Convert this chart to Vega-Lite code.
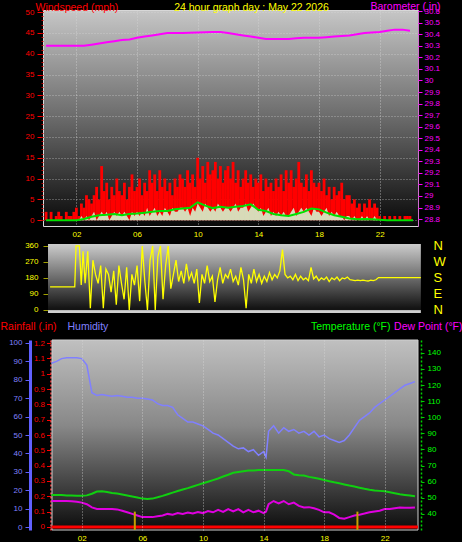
{
"$schema": "https://vega.github.io/schema/vega-lite/v6.json",
"background": "#000000",
"padding": 0,
"spacing": 0,
"config": {
  "view": {"stroke": null},
  "font": "Liberation Sans",
  "axis": {"labelFont": "Liberation Sans", "labelFontSize": 8, "titleFont": "Liberation Sans", "titleFontSize": 10.5, "titleFontWeight": "normal", "grid": false, "domain": false, "labelOverlap": false}
},
"datasets": {
  "wind": [
    {"t":0,"g":2,"s":0},{"t":10,"g":0,"s":0},{"t":20,"g":2,"s":0},{"t":30,"g":0,"s":0},{"t":40,"g":1,"s":0},{"t":50,"g":2,"s":0},
    {"t":60,"g":1,"s":0},{"t":70,"g":0,"s":0},{"t":80,"g":2,"s":0},{"t":90,"g":1,"s":0},{"t":100,"g":1,"s":0},{"t":110,"g":2,"s":0},
    {"t":120,"g":3,"s":0},{"t":130,"g":1,"s":0},{"t":140,"g":4,"s":1},{"t":150,"g":3,"s":0},{"t":160,"g":6,"s":1},{"t":170,"g":5,"s":0},
    {"t":180,"g":4,"s":1},{"t":190,"g":6,"s":2},{"t":200,"g":8,"s":0},{"t":210,"g":5,"s":1},{"t":220,"g":13,"s":2},{"t":230,"g":7,"s":1},
    {"t":240,"g":9,"s":2},{"t":250,"g":5,"s":0},{"t":260,"g":8,"s":1},{"t":270,"g":6,"s":2},{"t":280,"g":10,"s":1},{"t":290,"g":7,"s":2},
    {"t":300,"g":6,"s":1},{"t":310,"g":9,"s":2},{"t":320,"g":5,"s":1},{"t":330,"g":8,"s":0},{"t":340,"g":11,"s":2},{"t":350,"g":7,"s":1},
    {"t":360,"g":8,"s":2},{"t":370,"g":10,"s":1},{"t":380,"g":6,"s":2},{"t":390,"g":9,"s":1},{"t":400,"g":7,"s":3},{"t":410,"g":12,"s":1},
    {"t":420,"g":9,"s":2},{"t":430,"g":11,"s":3},{"t":440,"g":7,"s":1},{"t":450,"g":12,"s":2},{"t":460,"g":8,"s":1},{"t":470,"g":10,"s":3},
    {"t":480,"g":7,"s":2},{"t":490,"g":9,"s":1},{"t":500,"g":6,"s":3},{"t":510,"g":10,"s":2},{"t":520,"g":8,"s":2},{"t":530,"g":11,"s":3},
    {"t":540,"g":10,"s":3},{"t":550,"g":8,"s":2},{"t":560,"g":12,"s":3},{"t":570,"g":9,"s":1},{"t":580,"g":11,"s":3},{"t":590,"g":8,"s":2},
    {"t":600,"g":15,"s":4},{"t":610,"g":10,"s":3},{"t":620,"g":13,"s":2},{"t":630,"g":9,"s":4},{"t":640,"g":14,"s":3},{"t":650,"g":11,"s":2},
    {"t":660,"g":12,"s":3},{"t":670,"g":14,"s":2},{"t":680,"g":10,"s":4},{"t":690,"g":13,"s":3},{"t":700,"g":9,"s":2},{"t":710,"g":12,"s":3},
    {"t":720,"g":13,"s":3},{"t":730,"g":10,"s":2},{"t":740,"g":14,"s":3},{"t":750,"g":9,"s":4},{"t":760,"g":12,"s":2},{"t":770,"g":8,"s":3},
    {"t":780,"g":10,"s":3},{"t":790,"g":12,"s":4},{"t":800,"g":9,"s":2},{"t":810,"g":11,"s":3},{"t":820,"g":8,"s":4},{"t":830,"g":10,"s":3},
    {"t":840,"g":9,"s":2},{"t":850,"g":11,"s":3},{"t":860,"g":7,"s":1},{"t":870,"g":10,"s":2},{"t":880,"g":8,"s":3},{"t":890,"g":9,"s":1},
    {"t":900,"g":7,"s":2},{"t":910,"g":10,"s":1},{"t":920,"g":8,"s":2},{"t":930,"g":11,"s":1},{"t":940,"g":7,"s":2},{"t":950,"g":12,"s":1},
    {"t":960,"g":9,"s":1},{"t":970,"g":12,"s":2},{"t":980,"g":8,"s":3},{"t":990,"g":10,"s":1},{"t":1000,"g":14,"s":2},{"t":1010,"g":9,"s":3},
    {"t":1020,"g":8,"s":2},{"t":1030,"g":11,"s":3},{"t":1040,"g":7,"s":2},{"t":1050,"g":12,"s":1},{"t":1060,"g":9,"s":3},{"t":1070,"g":8,"s":2},
    {"t":1080,"g":9,"s":2},{"t":1090,"g":7,"s":1},{"t":1100,"g":10,"s":2},{"t":1110,"g":6,"s":3},{"t":1120,"g":8,"s":1},{"t":1130,"g":5,"s":2},
    {"t":1140,"g":8,"s":1},{"t":1150,"g":6,"s":2},{"t":1160,"g":7,"s":1},{"t":1170,"g":9,"s":1},{"t":1180,"g":5,"s":0},{"t":1190,"g":6,"s":1},
    {"t":1200,"g":6,"s":1},{"t":1210,"g":4,"s":0},{"t":1220,"g":5,"s":1},{"t":1230,"g":3,"s":0},{"t":1240,"g":4,"s":0},{"t":1250,"g":2,"s":1},
    {"t":1260,"g":4,"s":0},{"t":1270,"g":3,"s":1},{"t":1280,"g":5,"s":0},{"t":1290,"g":3,"s":0},{"t":1300,"g":4,"s":1},{"t":1310,"g":3,"s":0},
    {"t":1320,"g":1,"s":0},{"t":1330,"g":0,"s":0},{"t":1340,"g":1,"s":0},{"t":1350,"g":0,"s":0},{"t":1360,"g":1,"s":0},{"t":1370,"g":0,"s":0},
    {"t":1380,"g":1,"s":0},{"t":1390,"g":0,"s":0},{"t":1400,"g":1,"s":0},{"t":1410,"g":0,"s":0},{"t":1420,"g":1,"s":0},{"t":1430,"g":1,"s":0},
    {"t":1440,"g":1,"s":0}
  ],
  "avg": [
    {"t":0,"a":0},{"t":120,"a":0},{"t":150,"a":0.3},{"t":180,"a":0.8},{"t":210,"a":1.2},{"t":240,"a":1.3},{"t":270,"a":1.5},{"t":300,"a":1.2},
    {"t":330,"a":1.5},{"t":360,"a":1.6},{"t":390,"a":1.8},{"t":420,"a":2.0},{"t":450,"a":2.2},{"t":480,"a":2.2},{"t":510,"a":2.6},{"t":540,"a":2.8},
    {"t":570,"a":3.0},{"t":600,"a":4.3},{"t":630,"a":3.5},{"t":660,"a":2.9},{"t":690,"a":3.2},{"t":720,"a":3.0},{"t":750,"a":3.2},{"t":780,"a":3.4},
    {"t":810,"a":3.8},{"t":840,"a":2.5},{"t":870,"a":2.2},{"t":900,"a":1.5},{"t":930,"a":1.2},{"t":960,"a":1.0},{"t":990,"a":1.5},{"t":1020,"a":2.0},
    {"t":1050,"a":2.8},{"t":1080,"a":2.6},{"t":1110,"a":1.8},{"t":1140,"a":1.2},{"t":1170,"a":0.8},{"t":1200,"a":0.4},{"t":1230,"a":0.2},{"t":1260,"a":0.3},
    {"t":1290,"a":0.2},{"t":1320,"a":0.1},{"t":1350,"a":0},{"t":1452,"a":0}
  ],
  "baro": [
    {"t":0,"b":30.30},{"t":150,"b":30.30},{"t":180,"b":30.31},{"t":210,"b":30.32},{"t":240,"b":30.33},{"t":270,"b":30.34},{"t":300,"b":30.35},
    {"t":330,"b":30.355},{"t":360,"b":30.37},{"t":390,"b":30.38},{"t":420,"b":30.39},{"t":450,"b":30.40},{"t":480,"b":30.41},{"t":540,"b":30.41},
    {"t":600,"b":30.415},{"t":660,"b":30.42},{"t":690,"b":30.42},{"t":720,"b":30.41},{"t":750,"b":30.40},{"t":780,"b":30.39},{"t":810,"b":30.38},
    {"t":840,"b":30.37},{"t":870,"b":30.36},{"t":960,"b":30.36},{"t":990,"b":30.365},{"t":1020,"b":30.37},{"t":1080,"b":30.37},{"t":1110,"b":30.375},
    {"t":1140,"b":30.38},{"t":1170,"b":30.385},{"t":1200,"b":30.39},{"t":1230,"b":30.40},{"t":1260,"b":30.41},{"t":1290,"b":30.415},{"t":1320,"b":30.42},
    {"t":1350,"b":30.43},{"t":1380,"b":30.44},{"t":1410,"b":30.44},{"t":1440,"b":30.43}
  ],
  "dir": [
    {"t":35,"d":130},{"t":130,"d":130},{"t":135,"d":360},{"t":148,"d":360},{"t":155,"d":140},{"t":162,"d":330},{"t":170,"d":150},{"t":180,"d":330},
    {"t":190,"d":10},{"t":200,"d":280},{"t":210,"d":200},{"t":220,"d":150},{"t":230,"d":250},{"t":240,"d":10},{"t":250,"d":230},{"t":260,"d":200},
    {"t":270,"d":100},{"t":280,"d":220},{"t":290,"d":30},{"t":300,"d":250},{"t":310,"d":150},{"t":320,"d":60},{"t":330,"d":240},{"t":340,"d":0},
    {"t":350,"d":200},{"t":360,"d":140},{"t":370,"d":250},{"t":380,"d":50},{"t":390,"d":360},{"t":400,"d":160},{"t":410,"d":0},{"t":420,"d":280},
    {"t":430,"d":360},{"t":440,"d":0},{"t":450,"d":300},{"t":460,"d":360},{"t":470,"d":60},{"t":480,"d":250},{"t":490,"d":360},{"t":500,"d":120},
    {"t":510,"d":200},{"t":520,"d":280},{"t":530,"d":160},{"t":540,"d":220},{"t":550,"d":150},{"t":560,"d":260},{"t":570,"d":170},{"t":580,"d":210},
    {"t":590,"d":150},{"t":600,"d":230},{"t":610,"d":40},{"t":620,"d":200},{"t":630,"d":150},{"t":640,"d":250},{"t":650,"d":160},{"t":660,"d":190},
    {"t":670,"d":45},{"t":680,"d":170},{"t":690,"d":240},{"t":700,"d":150},{"t":710,"d":200},{"t":720,"d":180},{"t":730,"d":230},{"t":740,"d":160},
    {"t":750,"d":190},{"t":760,"d":140},{"t":770,"d":240},{"t":780,"d":170},{"t":790,"d":10},{"t":800,"d":200},{"t":810,"d":150},{"t":820,"d":230},
    {"t":830,"d":160},{"t":840,"d":200},{"t":850,"d":150},{"t":860,"d":190},{"t":870,"d":160},{"t":880,"d":210},{"t":890,"d":170},{"t":900,"d":200},
    {"t":910,"d":180},{"t":920,"d":220},{"t":930,"d":340},{"t":940,"d":200},{"t":950,"d":180},{"t":960,"d":190},{"t":970,"d":170},{"t":980,"d":200},
    {"t":990,"d":165},{"t":1000,"d":190},{"t":1010,"d":170},{"t":1020,"d":180},{"t":1030,"d":165},{"t":1040,"d":240},{"t":1050,"d":175},{"t":1060,"d":190},
    {"t":1070,"d":165},{"t":1080,"d":180},{"t":1090,"d":170},{"t":1100,"d":185},{"t":1110,"d":160},{"t":1120,"d":180},{"t":1130,"d":170},{"t":1140,"d":185},
    {"t":1150,"d":165},{"t":1160,"d":180},{"t":1170,"d":175},{"t":1180,"d":185},{"t":1190,"d":170},{"t":1200,"d":168},{"t":1210,"d":165},{"t":1220,"d":168},
    {"t":1230,"d":165},{"t":1240,"d":168},{"t":1250,"d":165},{"t":1260,"d":163},{"t":1270,"d":168},{"t":1280,"d":165},{"t":1290,"d":170},{"t":1300,"d":182},
    {"t":1463,"d":182}
  ],
  "bot": [
    {"t":0,"h":89,"tp":51.8,"dp":48},{"t":20,"h":90,"tp":51.8,"dp":48},{"t":40,"h":91.5,"tp":51.7,"dp":48},{"t":60,"h":92,"tp":51.5,"dp":48},
    {"t":80,"h":92,"tp":51.4,"dp":47.8},{"t":100,"h":92,"tp":51.3,"dp":47.5},{"t":120,"h":91.5,"tp":51.2,"dp":47},{"t":140,"h":88,"tp":51.5,"dp":46},
    {"t":160,"h":73,"tp":52.5,"dp":44},{"t":180,"h":71.5,"tp":53.9,"dp":43},{"t":200,"h":72,"tp":54,"dp":43},{"t":220,"h":71.5,"tp":53.6,"dp":43},
    {"t":240,"h":71,"tp":53,"dp":43},{"t":260,"h":71.5,"tp":52.6,"dp":42.8},{"t":280,"h":71,"tp":52,"dp":42},{"t":300,"h":70.5,"tp":51.4,"dp":41},
    {"t":320,"h":70.5,"tp":50.8,"dp":40},{"t":340,"h":70,"tp":50.2,"dp":39},{"t":360,"h":70,"tp":49.5,"dp":38},{"t":380,"h":69.5,"tp":49.3,"dp":38},
    {"t":400,"h":69,"tp":49.5,"dp":38},{"t":420,"h":67,"tp":50.3,"dp":38.5},{"t":440,"h":66,"tp":51.2,"dp":39},{"t":460,"h":66,"tp":52.2,"dp":40},
    {"t":480,"h":65,"tp":53.2,"dp":39.5},{"t":500,"h":61,"tp":54.2,"dp":40.5},{"t":520,"h":59,"tp":55.2,"dp":40},{"t":540,"h":57,"tp":56,"dp":40.8},
    {"t":560,"h":57,"tp":57,"dp":40.2},{"t":580,"h":56,"tp":58,"dp":41.2},{"t":600,"h":55,"tp":59,"dp":40.5},{"t":620,"h":53,"tp":60,"dp":41.8},
    {"t":640,"h":51,"tp":61,"dp":41},{"t":660,"h":50,"tp":62,"dp":42.5},{"t":680,"h":48,"tp":63.2,"dp":41.2},{"t":700,"h":46,"tp":64.3,"dp":43},
    {"t":720,"h":44,"tp":65.5,"dp":41.5},{"t":740,"h":42.5,"tp":66,"dp":43},{"t":760,"h":43,"tp":66.5,"dp":41},{"t":780,"h":41,"tp":67,"dp":42.5},
    {"t":800,"h":42,"tp":67,"dp":41},{"t":820,"h":39,"tp":67.2,"dp":42},{"t":840,"h":41,"tp":67.3,"dp":40.5},{"t":850,"h":38,"tp":67.3,"dp":41.5},
    {"t":860,"h":52,"tp":67.3,"dp":46},{"t":880,"h":55,"tp":67.3,"dp":48},{"t":900,"h":51,"tp":67.3,"dp":46.5},{"t":920,"h":54,"tp":67.2,"dp":48},
    {"t":940,"h":52,"tp":66.5,"dp":46},{"t":960,"h":53,"tp":64.5,"dp":47},{"t":980,"h":51,"tp":64,"dp":45},{"t":1000,"h":52,"tp":63.8,"dp":44},
    {"t":1020,"h":50,"tp":63,"dp":44.2},{"t":1040,"h":52,"tp":62.5,"dp":43.5},{"t":1060,"h":49,"tp":61.8,"dp":42.5},{"t":1080,"h":50,"tp":61,"dp":41},
    {"t":1100,"h":48,"tp":60.3,"dp":41},{"t":1120,"h":47,"tp":59.6,"dp":39.5},{"t":1140,"h":46,"tp":59,"dp":37.5},{"t":1160,"h":47,"tp":58.3,"dp":37},
    {"t":1180,"h":50,"tp":57.6,"dp":38},{"t":1200,"h":54,"tp":57,"dp":39},{"t":1220,"h":58,"tp":56.3,"dp":39.5},{"t":1240,"h":60,"tp":55.6,"dp":40.2},
    {"t":1260,"h":62,"tp":55,"dp":41},{"t":1280,"h":65,"tp":54.6,"dp":41.5},{"t":1300,"h":67,"tp":54.3,"dp":42},{"t":1320,"h":69,"tp":54,"dp":43},
    {"t":1340,"h":71,"tp":53.4,"dp":43},{"t":1360,"h":73,"tp":52.8,"dp":43.5},{"t":1380,"h":75,"tp":52.2,"dp":44},{"t":1400,"h":77,"tp":51.8,"dp":43.8},
    {"t":1420,"h":78,"tp":51.4,"dp":43.8},{"t":1440,"h":79,"tp":51,"dp":44}
  ],
  "rain": [{"t":0,"r":0},{"t":1452,"r":0}],
  "sun": [{"t":330,"label":"sunrise"},{"t":1212,"label":"sunset"}]
},
"vconcat": [
  {
    "width": 375, "height": 216,
    "view": {"fill": {"gradient": "linear", "x1": 0, "y1": 0, "x2": 0, "y2": 1, "stops": [{"offset": 0, "color": "#c6c6c6"}, {"offset": 0.5, "color": "#6a6a6a"}, {"offset": 1, "color": "#080808"}]}, "stroke": "#d8d8d8"},
    "layer": [
      {
        "data": {"name": "wind"},
        "mark": {"type": "bar", "color": "#ff0000", "width": 2.8, "clip": true},
        "encoding": {
          "x": {"field": "t", "type": "quantitative", "scale": {"domain": [7.7, 1452], "nice": false, "zero": false},
                "axis": {"values": [120,240,360,480,600,720,840,960,1080,1200,1320,1440], "labelExpr": "datum.value == 1440 ? '00' : (datum.value < 600 ? '0' + datum.value/60 : '' + datum.value/60)", "labelColor": "#ffff00", "ticks": false, "labelPadding": 4, "grid": true, "gridColor": "#d8d8d8", "gridDash": [1, 2], "gridOpacity": 0.7, "title": null}},
          "y": {"field": "g", "type": "quantitative", "scale": {"domain": [-1.4, 50.5], "nice": false, "zero": false},
                "axis": {"orient": "left", "values": [0,5,10,15,20,25,30,35,40,45,50], "labelColor": "#ff0000", "tickColor": "#ff0000", "tickSize": 6, "labelPadding": 3, "grid": true, "gridColor": "#d8d8d8", "gridDash": [1, 2], "gridOpacity": 0.6,
                         "title": "Windspeed (mph)", "titleColor": "#ff0000", "titleAngle": 0, "titleAlign": "left", "titleBaseline": "bottom", "titleX": -8, "titleY": 2}}
        }
      },
      {
        "data": {"name": "wind"},
        "mark": {"type": "area", "color": "#d4f2cc", "opacity": 0.9, "clip": true},
        "encoding": {
          "x": {"field": "t", "type": "quantitative"},
          "y": {"field": "s", "type": "quantitative", "scale": {"domain": [-1.4, 50.5], "nice": false, "zero": false},
                "axis": {"orient": "left", "values": [0,1,2,3,4,5,6,7,8,9,10,11,12,13,14,15,16,17,18,19,20,21,22,23,24,25,26,27,28,29,30,31,32,33,34,35,36,37,38,39,40,41,42,43,44,45,46,47,48,49,50], "labels": false, "tickColor": "#c00000", "tickSize": 2, "title": null}}
        }
      },
      {
        "data": {"name": "avg"},
        "mark": {"type": "line", "color": "#00e000", "strokeWidth": 2, "clip": true},
        "encoding": {
          "x": {"field": "t", "type": "quantitative"},
          "y": {"field": "a", "type": "quantitative", "scale": {"domain": [-1.4, 50.5], "nice": false, "zero": false},
                "axis": {"orient": "left", "labels": false, "ticks": false, "domain": false,
                         "title": "24 hour graph day : May 22 2026", "titleColor": "#ffff00", "titleAngle": 0, "titleAlign": "center", "titleBaseline": "bottom", "titleX": 208, "titleY": 2}}
        }
      },
      {
        "data": {"name": "baro"},
        "mark": {"type": "line", "color": "#ff00ff", "strokeWidth": 2, "clip": true},
        "encoding": {
          "x": {"field": "t", "type": "quantitative"},
          "y": {"field": "b", "type": "quantitative", "scale": {"domain": [28.74, 30.61], "nice": false, "zero": false},
                "axis": {"orient": "right", "values": [28.8,28.9,29,29.1,29.2,29.3,29.4,29.5,29.6,29.7,29.8,29.9,30,30.1,30.2,30.3,30.4,30.5,30.6], "format": "~g", "labelColor": "#ff00ff", "tickColor": "#ff00ff", "tickSize": 4, "labelPadding": 2, "domain": true, "domainColor": "#cc00cc", "domainDash": [1, 1],
                         "title": "Barometer (.in)", "titleColor": "#ff00ff", "titleAngle": 0, "titleAlign": "right", "titleBaseline": "bottom", "titleX": 22, "titleY": 1}}
        }
      }
    ],
    "resolve": {"scale": {"y": "independent"}, "axis": {"y": "independent"}}
  },
  {
    "width": 375, "height": 69,
    "layer": [
      {
        "data": {"values": [{}]},
        "mark": {"type": "rect", "clip": false, "fill": {"gradient": "linear", "x1": 0, "y1": 0, "x2": 0, "y2": 1, "stops": [{"offset": 0, "color": "#cccccc"}, {"offset": 0.5, "color": "#6a6a6a"}, {"offset": 0.93, "color": "#141414"}, {"offset": 0.955, "color": "#141414"}, {"offset": 0.965, "color": "#cfcfcf"}, {"offset": 1, "color": "#cfcfcf"}]}},
        "encoding": {
          "x": {"datum": 27, "type": "quantitative", "scale": {"domain": [7.7, 1452], "nice": false, "zero": false},
                "axis": {"labels": false, "ticks": true, "tickColor": "#000000", "tickSize": 7, "grid": false, "title": null}},
          "x2": {"datum": 1463},
          "y": {"datum": 0, "type": "quantitative", "scale": {"domain": [0, 1], "nice": false, "zero": false}, "axis": null},
          "y2": {"datum": 1}
        }
      },
      {
        "data": {"name": "dir"},
        "mark": {"type": "line", "color": "#ffff00", "strokeWidth": 1.3, "clip": false},
        "encoding": {
          "x": {"field": "t", "type": "quantitative"},
          "y": {"field": "d", "type": "quantitative", "scale": {"domain": [-17, 371], "nice": false, "zero": false},
                "axis": {"orient": "left", "offset": -5, "values": [0, 90, 180, 270, 360], "labelColor": "#ffff00", "tickColor": "#a0a000", "tickSize": 5, "labelPadding": 5, "title": null}}
        }
      },
      {
        "data": {"name": "dir"},
        "mark": {"type": "line", "opacity": 0},
        "encoding": {
          "x": {"field": "t", "type": "quantitative"},
          "y": {"field": "d", "type": "quantitative", "scale": {"domain": [-17, 371], "nice": false, "zero": false},
                "axis": {"orient": "right", "values": [0, 90, 180, 270, 360], "labelExpr": "datum.value == 360 ? 'N' : datum.value == 270 ? 'W' : datum.value == 180 ? 'S' : datum.value == 90 ? 'E' : 'N'", "labelColor": "#ffff00", "labelFontSize": 13, "labelPadding": 15, "ticks": false, "title": null}}
        }
      }
    ],
    "resolve": {"scale": {"y": "independent"}, "axis": {"y": "independent"}}
  },
  {
    "width": 375, "height": 190,
    "layer": [
      {
        "data": {"values": [{}]},
        "mark": {"type": "rect", "clip": false, "stroke": "#d0d0d0", "strokeWidth": 1, "fill": {"gradient": "linear", "x1": 0, "y1": 0, "x2": 0, "y2": 1, "stops": [{"offset": 0, "color": "#c0c0c0"}, {"offset": 0.45, "color": "#888888"}, {"offset": 1, "color": "#0c0c0c"}]}},
        "encoding": {
          "x": {"datum": 2, "type": "quantitative", "scale": {"domain": [-33.7, 1452], "nice": false, "zero": false},
                "axis": {"values": [120,240,360,480,600,720,840,960,1080,1200,1320,1440], "labelExpr": "datum.value == 1440 ? '00' : (datum.value < 600 ? '0' + datum.value/60 : '' + datum.value/60)", "labelColor": "#ffff00", "ticks": false, "labelPadding": 4, "grid": true, "gridColor": "#d8d8d8", "gridDash": [1, 2], "gridOpacity": 0.7, "zindex": 1, "title": null}},
          "x2": {"datum": 1452},
          "y": {"datum": 0, "type": "quantitative", "scale": {"domain": [0, 1], "nice": false, "zero": false}, "axis": null},
          "y2": {"datum": 1}
        }
      },
      {
        "data": {"name": "bot"},
        "mark": {"type": "line", "color": "#8080ff", "strokeWidth": 1.5},
        "encoding": {
          "x": {"field": "t", "type": "quantitative"},
          "y": {"field": "h", "type": "quantitative", "scale": {"domain": [-1.6, 101.6], "nice": false, "zero": false},
                "axis": {"orient": "left", "offset": 13, "values": [0,10,20,30,40,50,60,70,80,90,100], "labelColor": "#8080ff", "tickColor": "#6060ff", "tickSize": 5, "labelPadding": 3, "domain": true, "domainColor": "#6060ff", "domainWidth": 3,
                         "title": "Humidity", "titleColor": "#8080ff", "titleAngle": 0, "titleAlign": "left", "titleBaseline": "bottom", "titleX": 37, "titleY": -9}}
        }
      },
      {
        "data": {"name": "rain"},
        "mark": {"type": "line", "color": "#ff0000", "strokeWidth": 3},
        "encoding": {
          "x": {"field": "t", "type": "quantitative"},
          "y": {"field": "r", "type": "quantitative", "scale": {"domain": [-0.02, 1.22], "nice": false, "zero": false},
                "axis": {"orient": "left", "offset": -7.5, "values": [0,0.1,0.2,0.3,0.4,0.5,0.6,0.7,0.8,0.9,1,1.1,1.2], "format": "~g", "labelColor": "#ff0000", "tickColor": "#ff0000", "tickSize": 4, "labelPadding": 2, "domain": true, "domainColor": "#ff4040", "domainDash": [2, 2], "domainWidth": 1.5,
                         "title": "Rainfall (.in)", "titleColor": "#ff0000", "titleAngle": 0, "titleAlign": "left", "titleBaseline": "bottom", "titleX": -50.5, "titleY": -9}}
        }
      },
      {
        "data": {"name": "bot"},
        "mark": {"type": "line", "color": "#10d010", "strokeWidth": 2},
        "encoding": {
          "x": {"field": "t", "type": "quantitative"},
          "y": {"field": "tp", "type": "quantitative", "scale": {"domain": [30, 148], "nice": false, "zero": false},
                "axis": {"orient": "right", "offset": 3, "values": [40,50,60,70,80,90,100,110,120,130,140], "labelColor": "#00ff00", "tickColor": "#00d000", "tickSize": 3, "labelPadding": 3, "domain": true, "domainColor": "#00d000", "domainDash": [2, 2], "domainWidth": 1.5,
                         "title": "Temperature (°F)", "titleColor": "#00ff00", "titleAngle": 0, "titleAlign": "right", "titleBaseline": "bottom", "titleX": -31, "titleY": -9}}
        }
      },
      {
        "data": {"name": "bot"},
        "mark": {"type": "line", "color": "#e000e0", "strokeWidth": 2},
        "encoding": {
          "x": {"field": "t", "type": "quantitative"},
          "y": {"field": "dp", "type": "quantitative", "scale": {"domain": [30, 148], "nice": false, "zero": false},
                "axis": {"orient": "right", "labels": false, "ticks": false, "domain": false,
                         "title": "Dew Point (°F)", "titleColor": "#ff00ff", "titleAngle": 0, "titleAlign": "right", "titleBaseline": "bottom", "titleX": 44, "titleY": -9}}
        }
      },
      {
        "data": {"name": "sun"},
        "mark": {"type": "rule", "color": "#c8a000", "strokeWidth": 2},
        "encoding": {
          "x": {"field": "t", "type": "quantitative"},
          "y": {"datum": 0.1, "type": "quantitative", "scale": {"domain": [-0.02, 1.22], "nice": false, "zero": false}, "axis": null},
          "y2": {"datum": -0.02}
        }
      }
    ],
    "resolve": {"scale": {"y": "independent"}, "axis": {"y": "independent"}}
  }
]
}
